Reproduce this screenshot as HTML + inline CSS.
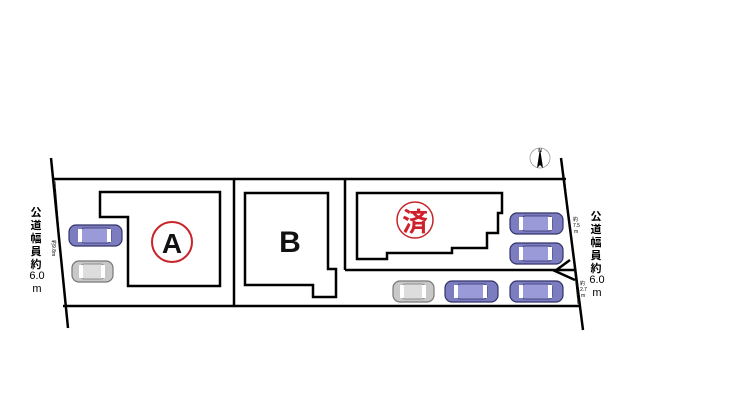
<!DOCTYPE html>
<html><head><meta charset="utf-8"><style>
html,body{margin:0;padding:0;background:#fff;}
svg{display:block;}
text{font-family:"Liberation Sans","Noto Sans CJK JP",sans-serif;}
</style></head><body>
<svg width="740" height="416" viewBox="0 0 740 416" xmlns="http://www.w3.org/2000/svg">
<defs>
<g id="carb">
  <rect x="0" y="0" width="53" height="21" rx="7" fill="#7c7cc0" stroke="#33336a" stroke-width="1.2"/>
  <rect x="12" y="3" width="30" height="15" rx="3" fill="#9a9ad8" stroke="#33336a" stroke-width="0.8"/>
  <rect x="9" y="4" width="4" height="13" fill="#fff"/>
  <rect x="38" y="4" width="4" height="13" fill="#fff"/>
</g>
<g id="carg">
  <rect x="0" y="0" width="41" height="21" rx="7" fill="#c8c8c8" stroke="#777" stroke-width="1.2"/>
  <rect x="9" y="3" width="23" height="15" rx="3" fill="#ddd" stroke="#777" stroke-width="0.8"/>
  <rect x="7" y="4" width="4" height="13" fill="#fff"/>
  <rect x="29" y="4" width="4" height="13" fill="#fff"/>
</g>
</defs>
<g stroke="#000" stroke-width="2.5" fill="none">
  <line x1="51" y1="158" x2="68" y2="328"/>
  <line x1="561" y1="158" x2="583" y2="330"/>
  <line x1="53" y1="179" x2="566" y2="179"/>
  <line x1="63" y1="306" x2="580" y2="306"/>
  <line x1="234" y1="179" x2="234" y2="306"/>
  <line x1="345" y1="179" x2="345" y2="270"/>
  <line x1="345" y1="270" x2="574" y2="270"/>
  <polyline points="570,260 555,271 575,280"/>
  <polygon points="100,192 220,192 220,286 128,286 128,217 100,217"/>
  <polygon points="245,193 328,193 328,269 336,269 336,297 313,297 313,285 245,285"/>
  <polygon points="357,193 502,193 502,213 498,213 498,233 487,233 487,248 452,248 452,253 387,253 387,259 357,259"/>
</g>
<line x1="55" y1="181" x2="65" y2="304" stroke="#000" stroke-width="0.6"/>
<line x1="565" y1="181" x2="578" y2="304" stroke="#000" stroke-width="0.6"/>
<circle cx="172" cy="242" r="20" fill="none" stroke="#c8252a" stroke-width="2"/>
<text x="172" y="253" font-size="28" text-anchor="middle" font-weight="bold" fill="#111">A</text>
<text x="290" y="252" font-size="30" text-anchor="middle" font-weight="bold" fill="#111">B</text>
<circle cx="415" cy="220" r="18" fill="none" stroke="#c8252a" stroke-width="1.5"/>
<text x="415" y="231" font-size="26" text-anchor="middle" font-weight="bold" fill="#d0202a">済</text>
<use href="#carb" x="69" y="225"/>
<use href="#carg" x="72" y="261"/>
<use href="#carb" x="510" y="213"/>
<use href="#carb" x="510" y="243"/>
<use href="#carb" x="510" y="281"/>
<use href="#carb" x="445" y="281"/>
<use href="#carg" x="393" y="281"/>
<circle cx="540" cy="158" r="10" fill="none" stroke="#999" stroke-width="0.8"/>
<polygon points="540,148 543,168 540,165 537,168" fill="#000"/>
<text x="540" y="152" font-size="5" text-anchor="middle">N</text>
<g font-size="11" font-weight="bold" fill="#000" text-anchor="middle">
  <text x="36" y="216">公</text><text x="36" y="229">道</text><text x="36" y="242">幅</text><text x="36" y="255">員</text><text x="36" y="268">約</text>
  <text x="37" y="279" font-weight="normal" font-size="11">6.0</text>
  <text x="37" y="292" font-weight="normal" font-size="11">m</text>
  <text x="596" y="220">公</text><text x="596" y="233">道</text><text x="596" y="246">幅</text><text x="596" y="259">員</text><text x="596" y="272">約</text>
  <text x="597" y="283" font-weight="normal">6.0</text>
  <text x="597" y="296" font-weight="normal">m</text>
</g>
<g font-size="5" fill="#000">
  <text x="52" y="240" transform="rotate(90 52 240)">約9.8m</text>
  <text x="573" y="221">約</text><text x="573" y="227">7.5</text><text x="574" y="233">m</text>
  <text x="580" y="285">約</text><text x="580" y="291">2.7</text><text x="581" y="297">m</text>
</g>
</svg>
</body></html>
